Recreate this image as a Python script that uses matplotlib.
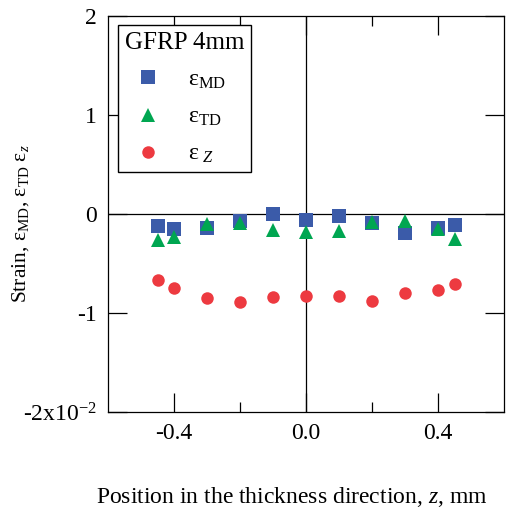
import numpy as np
import matplotlib.pyplot as plt
from matplotlib.ticker import FixedLocator

plt.rcParams['font.family'] = ['Liberation Serif', 'DejaVu Serif']
plt.rcParams['mathtext.fontset'] = 'custom'
plt.rcParams['mathtext.rm'] = 'Liberation Serif'
plt.rcParams['mathtext.it'] = 'Liberation Serif:italic'
plt.rcParams['mathtext.bf'] = 'Liberation Serif:bold'

# position in the thickness direction, mm
z_pos = [-0.45, -0.4, -0.3, -0.2, -0.1, 0.0, 0.1, 0.2, 0.3, 0.4, 0.45]
# strains (x10^-2)
eps_md = [-0.125, -0.155, -0.145, -0.074, -0.003, -0.064, -0.024, -0.094, -0.195, -0.145, -0.115]
eps_td = [-0.263, -0.236, -0.10, -0.094, -0.16, -0.185, -0.175, -0.077, -0.07, -0.155, -0.256]
eps_z = [-0.667, -0.744, -0.852, -0.892, -0.842, -0.825, -0.825, -0.875, -0.80, -0.771, -0.707]

yticks = [-2, -1, 0, 1, 2]
ytick_labels = [r'-2x10$^{\mathrm{-2}}$', '-1', '0', '1', '2']
xticks = [-0.4, 0.0, 0.4]
xtick_labels = ['-0.4', '0.0', '0.4']

fig = plt.figure(figsize=(5.19, 5.08), dpi=100)
ax = fig.add_axes([108/519, 1 - 412/508, 396/519, 396/508])

ax.axhline(0, color='k', lw=0.9, zorder=1)
ax.axvline(0, color='k', lw=0.9, zorder=1)

ax.plot(z_pos, eps_md, 's', color='#3b5ba9', ms=9.5, mew=0,
        label=r'$\mathrm{\varepsilon}_{\mathrm{MD}}$', zorder=3)
ax.plot(z_pos, eps_td, '^', color='#00a651', ms=10, mew=0,
        label=r'$\mathrm{\varepsilon}_{\mathrm{TD}}$', zorder=4)
ax.plot(z_pos, eps_z, 'o', color='#ed3a40', ms=9, mew=0,
        label=r'$\mathrm{\varepsilon}_{\ Z}$', zorder=3)

ax.set_xlim(-0.6, 0.6)
ax.set_ylim(-2, 2)
ax.set_xticks(xticks)
ax.set_xticklabels(xtick_labels)
ax.xaxis.set_minor_locator(FixedLocator([-0.2, 0.2]))
ax.set_yticks(yticks)
ax.set_yticklabels(ytick_labels)

ax.tick_params(which='major', direction='in', length=14, width=0.9,
               top=True, right=True, labelsize=17, pad=8)
ax.tick_params(which='minor', direction='in', length=7, width=0.9,
               top=True, right=True)
for s in ax.spines.values():
    s.set_linewidth(0.9)

ax.set_xlabel(r'Position in the thickness direction, $z$, mm', fontsize=17)
ax.xaxis.set_label_coords(0.465, -0.185)
ax.set_ylabel(r'Strain, $\mathrm{\varepsilon}_{\mathrm{MD}}$, $\mathrm{\varepsilon}_{\mathrm{TD}}$ $\mathrm{\varepsilon}_{z}$',
              fontsize=15.5)
ax.yaxis.set_label_coords(-0.195, 0.475)

leg = ax.legend(title='GFRP 4mm', loc='upper left', fontsize=17,
                title_fontsize=18, frameon=True, fancybox=False,
                edgecolor='k', framealpha=1, borderpad=0.3,
                handletextpad=0.7, labelspacing=0.65, alignment='left',
                bbox_to_anchor=(0.024, 0.978), borderaxespad=0)
leg.get_frame().set_linewidth(1.0)

fig.savefig('out.png', dpi=100)
